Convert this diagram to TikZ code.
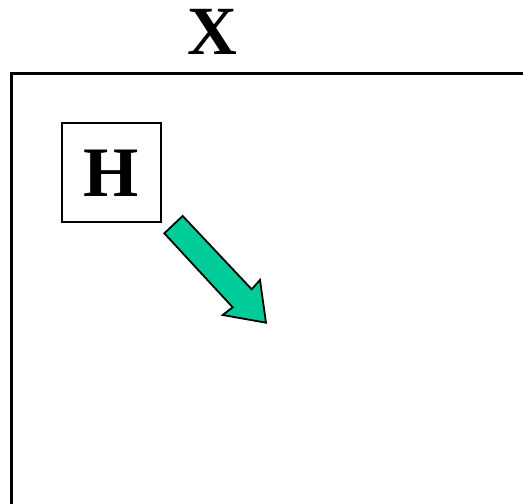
\documentclass[tikz,border=0pt]{standalone}
\usepackage{fontspec}
\setmainfont{Liberation Serif}
\usetikzlibrary{positioning}

\definecolor{arrowgreen}{RGB}{0,204,153}

\begin{document}
\begin{tikzpicture}[x=1pt, y=-1pt,
    label/.style={font=\fontsize{69}{69}\selectfont\bfseries, inner sep=0pt},
    hbox/.style={draw, line width=1.8pt, minimum size=99pt, inner sep=0pt,
                 font=\fontsize{71}{71}\selectfont\bfseries}]
            \useasboundingbox (0,0) rectangle (523,504);

            % Frame and its label

            \draw[line width=2.5pt] (524,73.5) -- (11.3,73.5) -- (11.3,505);
            \node[label] (xlabel) at (212.5,32) {X};

            % Box and arrow

            \node[hbox] (hnode) at (111.5,172.8) {H};
            \draw[line width=1.8pt, line join=miter, fill=arrowgreen]
                (164.3,233.3) -- (182.7,216) -- (251.7,289.3) -- (260,280)
                -- (266,322.7) -- (222.7,315) -- (232.7,307.3) -- cycle;

        \end{tikzpicture}
\end{document}
